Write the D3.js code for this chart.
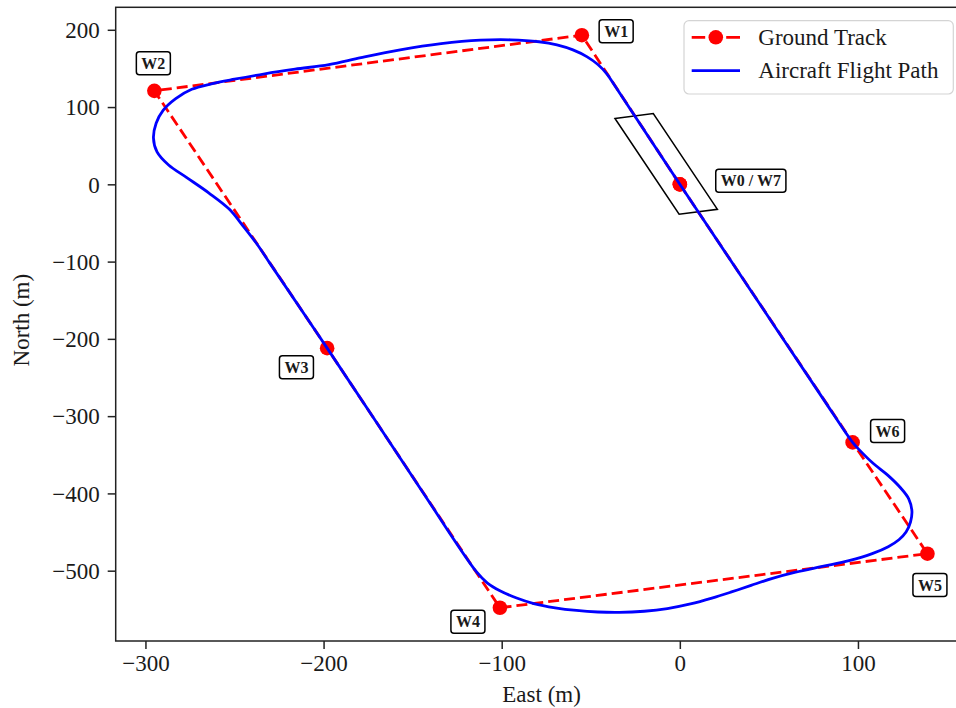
<!DOCTYPE html>
<html>
<head>
<meta charset="utf-8">
<script src="https://cdn.jsdelivr.net/npm/d3@7"></script>
<style>
  html, body { margin: 0; padding: 0; background: #fff; }
  svg { display: block; }
  text { font-family: "Liberation Serif", "DejaVu Serif", serif; fill: #1a1a1a; }
</style>
</head>
<body>
<svg id="chart" width="956" height="708"></svg>
<script>
// Planned ground track: waypoints W0..W6 and back to W0 (= W7), in metres
const trackEast  = [0, -55, -295, -198, -101, 139, 97, 0];
const trackNorth = [0, 193, 121, -212, -548, -478, -334, 0];
const waypointLabels = ["W0 / W7", "W1", "W2", "W3", "W4", "W5", "W6"];

// Flown path of the aircraft (closed loop, starting at W0 heading to W1)
const flightEast = [
  0, -36, -41, -46, -52, -60, -69, -79, -95, -112, -134, -157, -179, -197,
  -216, -233, -250, -263, -274, -283, -290, -294, -295.5, -293.5, -287, -277,
  -264.5, -253, -245.5, -237.8, -230.2, -198, -147, -114, -108, -101, -92, -82,
  -70, -58, -46, -34, -20, -7, 6, 18, 29, 40, 52, 65, 80, 95, 108, 117, 123,
  127, 129.5, 130.3, 128.5, 124, 117, 108, 100.5, 97, 80, 40
];
const flightNorth = [
  0, 126, 143, 155, 165, 174, 180.5, 184.5, 187, 186.5, 182, 174, 164, 155,
  149, 143, 136, 130, 123, 111, 96, 79, 60, 42, 25, 9,
  -11, -32, -53, -76, -102, -212, -389, -502, -516, -526, -535, -542.5,
  -548, -551.5, -553.5, -554, -552.5, -549, -543, -535.5, -527.5, -519, -510, -502, -494.5, -487, -478, -469, -460,
  -450, -437, -423, -407, -393, -377, -360, -343, -334, -276, -138
];

// Capture corridor drawn around the final leg into W0
const corridorEast  = [-36.4, -14.9, 21.1, -0.4];
const corridorNorth = [85.2, 91.5, -32.4, -38.7];

const xTicks = [-300, -200, -100, 0, 100];
const yTicks = [-500, -400, -300, -200, -100, 0, 100, 200];
const xLimits = [-316.7, 161.5];
const yLimits = [-591, 229.1];

// Label placement relative to each waypoint marker (pixels)
const labelOffsets = [[71, -3.6], [34.3, -4], [-1, -27.7], [-30.7, 19], [-32, 14], [2.5, 31.4], [35, -11.3]];

const svg = d3.select("#chart");
const plot = { left: 115.7, right: 967.5, top: 7.3, bottom: 641 };

const x = d3.scaleLinear().domain(xLimits).range([plot.left, plot.right]);
const y = d3.scaleLinear().domain(yLimits).range([plot.bottom, plot.top]);

const fmt = d => d < 0 ? "\u2212" + Math.abs(d) : String(d);

// Corridor rectangle
const corridor = corridorEast.map((e, i) => [x(e), y(corridorNorth[i])]);
svg.append("polygon")
  .attr("points", corridor.map(p => p.join(",")).join(" "))
  .attr("fill", "none").attr("stroke", "#000").attr("stroke-width", 1.5);

// Ground track
const track = trackEast.map((e, i) => ({ e, n: trackNorth[i] }));
svg.append("path")
  .datum(track)
  .attr("d", d3.line().x(d => x(d.e)).y(d => y(d.n)))
  .attr("fill", "none").attr("stroke", "#ff0000").attr("stroke-width", 2.8)
  .attr("stroke-dasharray", "11,5");
svg.selectAll("circle.wp").data(track).join("circle")
  .attr("class", "wp")
  .attr("cx", d => x(d.e)).attr("cy", d => y(d.n)).attr("r", 7.3)
  .attr("fill", "#ff0000");

// Aircraft flight path
const flight = flightEast.map((e, i) => ({ e, n: flightNorth[i] }));
svg.append("path")
  .datum(flight)
  .attr("d", d3.line().x(d => x(d.e)).y(d => y(d.n)).curve(d3.curveCatmullRomClosed.alpha(0.5)))
  .attr("fill", "none").attr("stroke", "#0000ff").attr("stroke-width", 2.8);

// Waypoint labels in rounded boxes
waypointLabels.forEach((name, i) => {
  const cx = x(trackEast[i]) + labelOffsets[i][0];
  const cy = y(trackNorth[i]) + labelOffsets[i][1];
  const g = svg.append("g");
  const t = g.append("text")
    .attr("x", cx).attr("y", cy).attr("dy", "0.35em")
    .attr("text-anchor", "middle")
    .attr("font-weight", "bold").attr("font-size", 16)
    .attr("fill", "#000")
    .text(name);
  const bb = t.node().getBBox();
  g.insert("rect", "text")
    .attr("x", bb.x - 5).attr("y", cy - 11.5)
    .attr("width", bb.width + 10).attr("height", 23)
    .attr("rx", 3).attr("ry", 3)
    .attr("fill", "#fff").attr("stroke", "#000").attr("stroke-width", 1.5);
});

// Axes frame
svg.append("rect")
  .attr("x", plot.left).attr("y", plot.top)
  .attr("width", plot.right - plot.left).attr("height", plot.bottom - plot.top)
  .attr("fill", "none").attr("stroke", "#222").attr("stroke-width", 1.5);

const xAxis = svg.append("g")
  .attr("transform", `translate(0,${plot.bottom})`)
  .call(d3.axisBottom(x).tickValues(xTicks).tickFormat(fmt).tickSize(8).tickSizeOuter(0));
xAxis.select(".domain").remove();
xAxis.selectAll(".tick line").attr("stroke", "#222").attr("stroke-width", 1.5);
xAxis.selectAll(".tick text")
  .attr("y", 30).attr("dy", null)
  .attr("font-size", 23).attr("font-family", "Liberation Serif, serif").attr("fill", "#1a1a1a");

const yAxis = svg.append("g")
  .attr("transform", `translate(${plot.left},0)`)
  .call(d3.axisLeft(y).tickValues(yTicks).tickFormat(fmt).tickSize(8).tickSizeOuter(0));
yAxis.select(".domain").remove();
yAxis.selectAll(".tick line").attr("stroke", "#222").attr("stroke-width", 1.5);
yAxis.selectAll(".tick text")
  .attr("x", -16).attr("dy", "0.34em")
  .attr("font-size", 23).attr("font-family", "Liberation Serif, serif").attr("fill", "#1a1a1a");

// Axis titles
svg.append("text")
  .attr("x", (plot.left + plot.right) / 2).attr("y", 702)
  .attr("text-anchor", "middle").attr("font-size", 23)
  .text("East (m)");
svg.append("text")
  .attr("transform", `translate(29,${(plot.top + plot.bottom) / 2 - 4}) rotate(-90)`)
  .attr("text-anchor", "middle").attr("font-size", 23)
  .text("North (m)");

// Legend
const legend = svg.append("g");
legend.append("rect")
  .attr("x", 684).attr("y", 20.7).attr("width", 269.3).attr("height", 73.3)
  .attr("rx", 5).attr("ry", 5)
  .attr("fill", "#fff").attr("fill-opacity", 0.85)
  .attr("stroke", "#d4d4d4").attr("stroke-width", 1.2);
legend.append("line")
  .attr("x1", 691.7).attr("x2", 740).attr("y1", 37.3).attr("y2", 37.3)
  .attr("stroke", "#ff0000").attr("stroke-width", 2.8).attr("stroke-dasharray", "13.5,21,14");
legend.append("circle")
  .attr("cx", 715.8).attr("cy", 37.3).attr("r", 7.3).attr("fill", "#ff0000");
legend.append("text")
  .attr("x", 758.3).attr("y", 45).attr("font-size", 23).text("Ground Track");
legend.append("line")
  .attr("x1", 691.7).attr("x2", 740).attr("y1", 70.7).attr("y2", 70.7)
  .attr("stroke", "#0000ff").attr("stroke-width", 2.8);
legend.append("text")
  .attr("x", 758.3).attr("y", 78).attr("font-size", 23).text("Aircraft Flight Path");
</script>
</body>
</html>
